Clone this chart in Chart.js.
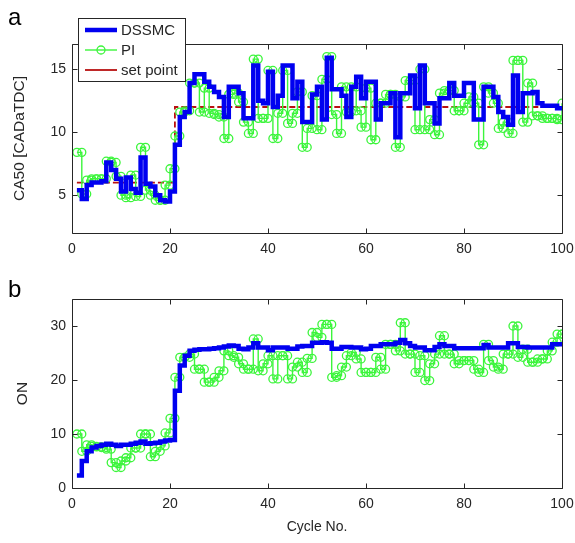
<!DOCTYPE html>
<html><head><meta charset="utf-8">
<script src="https://cdn.jsdelivr.net/npm/chart.js@4/dist/chart.umd.min.js"></script>
<style>
html,body{margin:0;padding:0;background:#fff;}
#wrap{position:relative;width:575px;height:543px;background:#fff;}
canvas{position:absolute;left:0;}
</style></head><body>
<div id="wrap">
<canvas id="topc" width="575" height="270" style="top:0"></canvas>
<canvas id="botc" width="575" height="273" style="top:270px"></canvas>
</div>
<script>
// ---------- data ----------
const cycles = Array.from({length: 100}, (_, i) => i + 1);
const xTicks = [0, 20, 40, 60, 80, 100];
const yTicksCA50 = [5, 10, 15];
const yTicksON = [0, 10, 20, 30];

const ca50DSSMC = [5.4,4.7,5.8,6.0,6.0,6.1,7.6,7.0,6.3,5.3,
  6.4,5.5,5.2,8.0,5.9,5.7,5.0,4.6,4.5,5.3,
  9.0,11.2,11.6,13.9,14.6,14.6,14.0,13.6,13.2,12.8,
  11.2,13.6,13.6,13.1,11.1,11.1,15.3,12.5,12.3,14.8,
  12.0,12.9,15.3,15.3,12.7,14.0,10.8,10.8,13.0,13.6,
  11.0,15.9,13.4,13.4,12.9,11.2,13.6,14.4,12.7,14.0,
  14.0,11.0,12.3,12.3,13.1,9.6,13.1,13.1,14.5,11.9,
  15.3,12.3,12.3,10.7,12.7,12.7,13.9,12.9,12.9,13.9,
  13.9,11.0,11.0,13.6,13.6,12.8,11.6,11.2,10.6,14.5,
  11.6,13.1,13.1,13.2,12.3,12.1,12.1,12.1,11.9,11.9];

const ca50PI = [8.4,5.1,6.2,6.3,6.3,6.3,7.7,7.6,6.5,5.0,
  4.8,6.6,4.9,8.8,5.4,5.0,4.6,4.6,5.8,7.1,
  9.7,11.6,11.7,13.9,13.9,11.6,13.5,11.5,11.4,11.2,
  9.5,13.0,13.1,12.4,10.8,9.9,15.8,11.1,11.1,14.9,
  9.5,11.5,14.9,10.7,11.5,13.2,8.8,10.3,12.9,10.2,
  14.2,16.0,11.4,9.9,13.6,11.6,13.6,11.7,10.4,13.5,
  9.4,12.3,12.3,13.0,13.0,8.8,12.8,14.1,14.1,10.2,
  15.0,10.2,11.0,9.8,13.1,13.3,13.3,11.7,11.7,12.3,
  12.8,12.3,9.0,13.6,13.1,12.3,10.3,10.8,9.9,15.7,
  15.7,10.8,13.9,11.3,11.3,11.1,11.1,11.1,11.0,12.3];

const ca50SetPoint = [6,6,6,6,6,6,6,6,6,6,
  6,6,6,6,6,6,6,6,6,6,
  12,12,12,12,12,12,12,12,12,12,
  12,12,12,12,12,12,12,12,12,12,
  12,12,12,12,12,12,12,12,12,12,
  12,12,12,12,12,12,12,12,12,12,
  12,12,12,12,12,12,12,12,12,12,
  12,12,12,12,12,12,12,12,12,12,
  12,12,12,12,12,12,12,12,12,12,
  12,12,12,12,12,12,12,12,12,12];

const onDSSMC = [2.3,5.0,6.8,7.5,7.8,8.0,8.2,8.0,7.8,8.0,
  8.0,8.2,8.4,8.6,8.2,8.3,8.4,8.6,8.8,8.9,
  18.0,22.7,24.5,25.4,25.6,25.7,25.7,25.8,25.9,26.0,
  26.2,26.4,26.3,25.8,25.7,26.0,26.8,26.0,26.0,25.5,
  26.0,26.0,26.0,25.8,25.8,26.2,26.3,26.3,26.9,26.9,
  27.0,26.9,25.8,25.8,26.1,26.1,26.0,26.0,25.7,25.8,
  26.3,26.3,26.6,26.6,26.6,26.9,27.4,26.8,26.3,26.0,
  26.0,25.5,25.5,26.1,26.6,26.3,26.3,25.9,25.9,25.9,
  25.9,25.9,25.9,26.5,26.0,26.0,26.0,26.0,26.8,26.8,
  26.1,26.1,26.0,26.0,26.0,26.0,26.0,26.6,26.6,26.8];

const onPI = [10.0,6.8,8.0,7.7,7.6,7.5,7.2,4.7,3.8,5.0,
  5.6,7.4,7.4,10.0,10.0,5.8,6.8,7.8,10.2,12.9,
  20.5,24.2,24.2,24.8,22.0,22.0,19.6,19.6,20.5,21.7,
  25.4,24.5,24.2,23.0,22.0,22.0,27.6,21.7,23.0,24.5,
  20.2,24.5,24.5,20.2,22.4,23.3,21.4,24.0,28.8,27.9,
  30.3,30.3,20.5,20.8,22.4,24.5,25.1,23.9,21.4,21.4,
  21.4,24.2,22.0,26.6,26.6,25.4,30.6,24.8,24.8,21.4,
  24.5,19.9,23.0,24.8,28.2,24.8,24.8,23.0,23.6,23.6,
  23.6,22.0,21.4,26.6,23.6,22.4,22.0,24.8,24.8,30.0,
  24.2,25.7,23.3,23.3,23.9,23.9,25.4,27.0,28.5,28.5];

// ---------- helpers ----------
const FONT = "'Liberation Sans', Arial, sans-serif";
const TXT = '#262626';
const BLUE = '#0000f0';
const GREEN = '#3cf53c';
const RED = '#b81010';

// MATLAB-like stairs: vertices (x_i,y_i),(x_{i+1},y_i),...
function stairs(xs, ys) {
  const pts = [];
  for (let i = 0; i < xs.length; i++) {
    pts.push({x: xs[i], y: ys[i]});
    if (i < xs.length - 1) pts.push({x: xs[i + 1], y: ys[i]});
  }
  return pts;
}

const boxPlugin = {
  id: 'boxTicks',
  afterDatasetsDraw(chart) {
    const {ctx, chartArea: a, scales: {x, y}} = chart;
    const L = Math.round(a.left) + 0.5, R = Math.round(a.right) + 0.5;
    const T = Math.round(a.top) + 0.5, B = Math.round(a.bottom) + 0.5;
    ctx.save();
    ctx.strokeStyle = TXT; ctx.lineWidth = 1;
    ctx.beginPath();
    ctx.rect(L, T, R - L, B - T);
    const tl = 5;
    x.ticks.forEach(t => {
      const p = Math.round(x.getPixelForValue(t.value)) + 0.5;
      ctx.moveTo(p, B); ctx.lineTo(p, B - tl);
      ctx.moveTo(p, T); ctx.lineTo(p, T + tl);
    });
    y.ticks.forEach(t => {
      const p = Math.round(y.getPixelForValue(t.value)) + 0.5;
      ctx.moveTo(L, p); ctx.lineTo(L + tl, p);
      ctx.moveTo(R, p); ctx.lineTo(R - tl, p);
    });
    ctx.stroke();
    ctx.restore();
  }
};

function letterPlugin(letter, baseY) {
  return {
    id: 'letter' + letter,
    afterDraw(chart) {
      const ctx = chart.ctx;
      ctx.save();
      ctx.fillStyle = '#000';
      ctx.font = '24px ' + FONT;
      ctx.textBaseline = 'alphabetic';
      ctx.fillText(letter, 8, baseY);
      ctx.restore();
    }
  };
}

const legendPlugin = {
  id: 'matLegend',
  afterDraw(chart) {
    const ctx = chart.ctx;
    const bx = 78.5, by = 18.5, bw = 107, bh = 63;
    ctx.save();
    ctx.fillStyle = '#fff';
    ctx.fillRect(bx, by, bw, bh);
    ctx.strokeStyle = '#262626'; ctx.lineWidth = 1;
    ctx.strokeRect(bx, by, bw, bh);
    const items = chart.data.datasets;
    const rows = [30, 50, 70];
    ctx.font = '15px ' + FONT;
    ctx.textBaseline = 'middle';
    items.forEach((ds, i) => {
      const yy = rows[i];
      ctx.beginPath();
      ctx.strokeStyle = ds.borderColor;
      ctx.lineWidth = ds.borderWidth;
      ctx.setLineDash([]);
      ctx.moveTo(85, yy); ctx.lineTo(117, yy);
      ctx.stroke();
      if (ds.pointRadius > 0) {
        ctx.beginPath();
        ctx.lineWidth = ds.pointBorderWidth;
        ctx.arc(101, yy, ds.pointRadius, 0, Math.PI * 2);
        ctx.stroke();
      }
      ctx.fillStyle = TXT;
      ctx.fillText(ds.label, 121, yy + 1);
    });
    ctx.restore();
  }
};

function xScale(height, title) {
  return {
    type: 'linear', min: 0, max: 100,
    grid: {display: false, drawTicks: false}, border: {display: false},
    ticks: {color: TXT, padding: 8, maxRotation: 0, font: {size: 14, family: FONT}},
    afterBuildTicks: s => { s.ticks = xTicks.map(v => ({value: v})); },
    afterFit: s => { s.height = height; s.paddingLeft = 0; s.paddingRight = 0; },
    title: title ? {display: true, text: title, color: TXT, font: {size: 14, family: FONT}, padding: {top: 0, bottom: 7}} : {display: false}
  };
}
function yScale(min, max, ticks, title, tpad) {
  return {
    type: 'linear', min: min, max: max,
    grid: {display: false, drawTicks: false}, border: {display: false},
    ticks: {color: TXT, padding: 6, font: {size: 14, family: FONT}},
    afterBuildTicks: s => { s.ticks = ticks.map(v => ({value: v})); },
    afterFit: s => { s.width = 72; s.paddingTop = 0; s.paddingBottom = 0; },
    title: {display: true, text: title, color: TXT, font: {size: 15.5, family: FONT}, padding: {top: tpad, bottom: 0}}
  };
}

const common = {
  responsive: false, animation: false, devicePixelRatio: 1,
  plugins: {legend: {display: false}, tooltip: {enabled: false}},
};

new Chart(document.getElementById('topc'), {
  type: 'line',
  data: {
    datasets: [
      {label: 'DSSMC', data: stairs(cycles, ca50DSSMC), borderColor: BLUE, borderWidth: 4.5, pointRadius: 0, fill: false, tension: 0},
      {label: 'PI', data: stairs(cycles, ca50PI), borderColor: GREEN, borderWidth: 1.4, pointRadius: 4, pointBorderWidth: 1.3, pointBorderColor: GREEN, pointBackgroundColor: 'rgba(0,0,0,0)', fill: false, tension: 0},
      {label: 'set point', data: stairs(cycles, ca50SetPoint), borderColor: RED, borderWidth: 1.8, borderDash: [6, 3], pointRadius: 0, fill: false, tension: 0}
    ]
  },
  options: Object.assign({}, common, {
    layout: {padding: {top: 44, right: 13, left: 0, bottom: 0}},
    scales: {x: xScale(37, null), y: yScale(2, 17, yTicksCA50, 'CA50 [CADaTDC]', 10)}
  }),
  plugins: [boxPlugin, legendPlugin, letterPlugin('a', 25)]
});

new Chart(document.getElementById('botc'), {
  type: 'line',
  data: {
    datasets: [
      {label: 'DSSMC', data: stairs(cycles, onDSSMC), borderColor: BLUE, borderWidth: 4.5, pointRadius: 0, fill: false, tension: 0},
      {label: 'PI', data: stairs(cycles, onPI), borderColor: GREEN, borderWidth: 1.4, pointRadius: 4, pointBorderWidth: 1.3, pointBorderColor: GREEN, pointBackgroundColor: 'rgba(0,0,0,0)', fill: false, tension: 0}
    ]
  },
  options: Object.assign({}, common, {
    layout: {padding: {top: 29, right: 13, left: 0, bottom: 0}},
    scales: {x: xScale(55, 'Cycle No.'), y: yScale(0, 35, yTicksON, 'ON', 13)}
  }),
  plugins: [boxPlugin, letterPlugin('b', 27)]
});
</script>
</body></html>
